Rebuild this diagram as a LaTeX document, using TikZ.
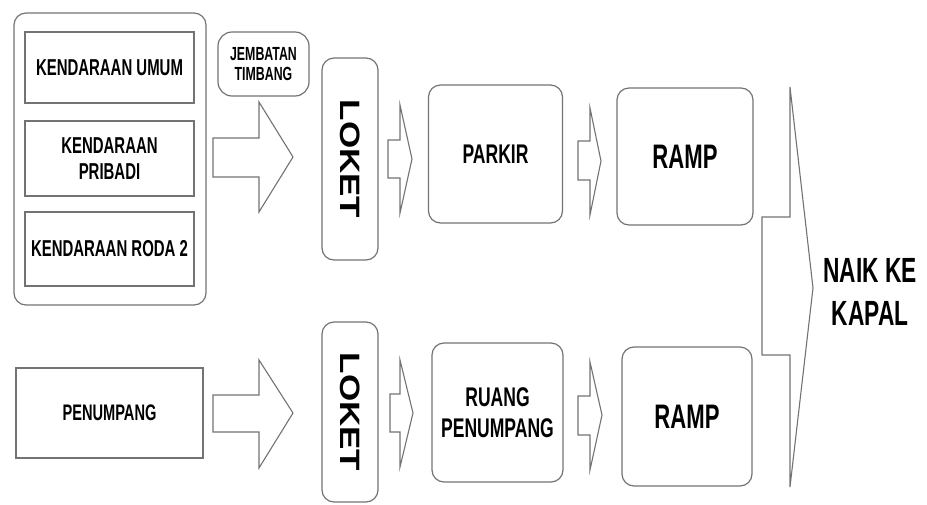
\documentclass[tikz,border=0pt]{standalone}
\usepackage{fontspec}
\newfontfamily\diagfont[FakeStretch=0.65]{Liberation Sans}
\newfontfamily\loketfont[FakeStretch=1.25]{Liberation Sans}

\begin{document}
\begin{tikzpicture}[
            x=1pt, y=-1pt,
            box/.style={rectangle, draw=black!55, line width=1.2pt, inner sep=0pt, align=center},
            group/.style={box, rounded corners=12pt, minimum width=192pt, minimum height=292pt},
            kind/.style={box, minimum width=169pt, font=\diagfont\bfseries\fontsize{23}{26}\selectfont},
            weigh/.style={box, rounded corners=14pt, minimum width=91pt, minimum height=64pt, font=\diagfont\bfseries\fontsize{19}{20}\selectfont},
            loket/.style={box, rounded corners=12pt, minimum width=56pt, font=\loketfont\bfseries\fontsize{28}{30}\selectfont},
            area/.style={box, rounded corners=12pt, minimum width=134pt, minimum height=138pt, font=\diagfont\bfseries\fontsize{27}{31}\selectfont},
            ramp/.style={area, font=\diagfont\bfseries\fontsize{34}{36}\selectfont},
            label/.style={align=center, inner sep=0pt, font=\diagfont\bfseries\fontsize{35}{43}\selectfont},
            blockarrow/.style={draw=black!55, line width=1.1pt, fill=white, line join=miter}
        ]
        \useasboundingbox (0,0) rectangle (927,504);

        % Vehicles
        \node[group] (grup) at (110,159) {};
        \node[kind, minimum height=71pt] (umum) at (109.5,67.5) {KENDARAAN UMUM};
        \node[kind, minimum height=75pt] (pribadi) at (109.5,158.5) {KENDARAAN\\PRIBADI};
        \node[kind, minimum height=74pt] (roda) at (109.5,249) {KENDARAAN RODA 2};

        % Passengers
        \node[kind, minimum width=187pt, minimum height=90pt, font=\diagfont\bfseries\fontsize{22.5}{26}\selectfont] (penumpang) at (109.5,413) {PENUMPANG};

        % Weighing bridge
        \node[weigh] (jembatan) at (263.5,64) {JEMBATAN\\TIMBANG};

        % Ticket counters
        \node[loket, minimum height=202pt] (loket1) at (350,159) {\rotatebox{-90}{LOKET}};
        \node[loket, minimum height=180pt] (loket2) at (350,412) {\rotatebox{-90}{LOKET}};

        % Waiting areas
        \node[area] (parkir) at (495.5,154) {PARKIR};
        \node[area, minimum width=131pt, minimum height=139pt] (ruang) at (497.5,412.5) {RUANG\\PENUMPANG};

        % Ramps
        \node[ramp, minimum width=136pt, minimum height=137pt] (ramp1) at (685,156.5) {RAMP};
        \node[ramp, minimum width=130pt, minimum height=139pt] (ramp2) at (687,416.5) {RAMP};

        % Boarding
        \node[label] (naik) at (870,292) {NAIK KE\\KAPAL};

        % Big arrows to the counters
        \draw[blockarrow] (213,138) -- (259,138) -- (259,102) -- (293,157) -- (259,212) -- (259,177) -- (213,177) -- cycle;
        \draw[blockarrow] (213,395) -- (259,395) -- (259,360) -- (293,413) -- (259,468) -- (259,432) -- (213,432) -- cycle;

        % Small arrows, top row
        \draw[blockarrow] (388,140) -- (400,140) -- (400,105) -- (412,159) -- (400,213) -- (400,178) -- (388,178) -- cycle;
        \draw[blockarrow] (578,141) -- (590,141) -- (590,108) -- (601,161) -- (590,215) -- (590,180) -- (578,180) -- cycle;

        % Small arrows, bottom row
        \draw[blockarrow] (390,394) -- (400,394) -- (400,360) -- (413,413) -- (400,467) -- (400,432) -- (390,432) -- cycle;
        \draw[blockarrow] (578,396) -- (590,396) -- (590,362) -- (602,415) -- (590,470) -- (590,435) -- (578,435) -- cycle;

        % Arrow to the ship
        \draw[blockarrow] (762,217) -- (790,217) -- (790,87) -- (813,288) -- (790,487) -- (790,355) -- (762,355) -- cycle;

    \end{tikzpicture}
\end{document}
